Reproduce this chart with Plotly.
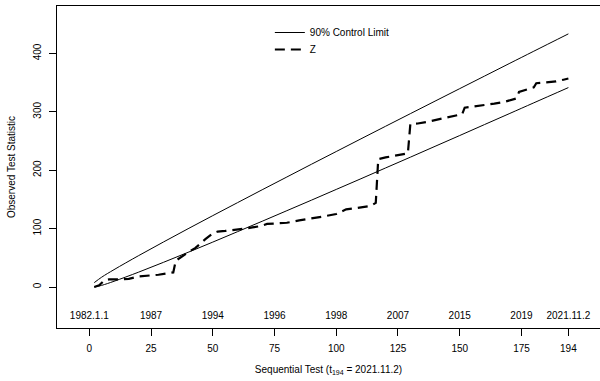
import plotly.graph_objects as go

# Sequential test index and the two 90% control limits
limit_t = [2, 5, 10, 20, 30, 40, 50, 60, 70, 80, 90, 100, 110, 120, 130, 140,
           150, 160, 170, 180, 194]
upper_limit = [7.5, 16.8, 29.7, 53.8, 77.0, 99.8, 122.2, 144.4, 166.5, 188.4,
               210.3, 232.0, 253.7, 275.3, 296.8, 318.3, 339.7, 361.1, 382.5,
               403.8, 433.5]
lower_limit = [0.0, 2.8, 9.8, 25.5, 42.2, 59.4, 76.9, 94.7, 112.6, 130.7,
               148.8, 167.1, 185.4, 203.9, 222.3, 240.9, 259.4, 278.1, 296.7,
               315.4, 341.5]

# Observed test statistic Z
z_t = [2, 4, 6, 8, 12, 16, 20, 24, 28, 31, 34, 35, 37, 39, 41, 43, 45, 47,
       50, 52, 55, 60, 63, 66, 69, 72, 76, 80, 85, 90, 95, 100, 102, 104, 108,
       112, 114, 116, 117, 120, 124, 128, 129, 130, 133, 137, 141, 145, 149,
       151, 152, 156, 160, 164, 168, 172, 173, 174, 176, 178, 180, 181, 185,
       189, 192, 194]
z_val = [0, 3, 11, 13, 13, 14, 18, 19, 21, 23, 25, 45, 51, 56, 62, 67, 75,
         82, 92, 95, 96, 98, 100, 102, 104, 108, 109, 110, 114, 117, 121, 125,
         129, 133, 135, 137, 139, 144, 219, 222, 225, 228, 229, 279, 280, 283,
         287, 291, 294, 296, 307, 309, 312, 314, 317, 321, 323, 334, 337, 339,
         342, 349, 351, 352, 355, 357]

# Calendar dates marked above the sequential-test axis
date_pos = [0, 25, 50, 75, 100, 125, 150, 175, 194]
date_labels = ["1982.1.1", "1987", "1994", "1996", "1998", "2007", "2015",
               "2019", "2021.11.2"]
date_level = -51

x_ticks = [0, 25, 50, 75, 100, 125, 150, 175, 194]
y_ticks = [0, 100, 200, 300, 400]

FONT = "Liberation Sans, Arial, sans-serif"

fig = go.Figure()
fig.add_trace(go.Scatter(
    x=limit_t, y=upper_limit, mode="lines", name="90% Control Limit",
    legendgroup="limit", legend="legend",
    line=dict(color="black", width=1, shape="spline"),
))
fig.add_trace(go.Scatter(
    x=limit_t, y=lower_limit, mode="lines", name="90% Control Limit",
    legendgroup="limit", showlegend=False,
    line=dict(color="black", width=1, shape="spline"),
))
fig.add_trace(go.Scatter(
    x=z_t, y=z_val, mode="lines", name="Z", legend="legend2",
    line=dict(color="black", width=2.2, dash="10px,6px"),
))
fig.add_trace(go.Scatter(
    x=date_pos, y=[date_level] * len(date_pos), mode="text",
    text=date_labels, textposition="middle center",
    textfont=dict(family=FONT, size=10, color="black"),
    showlegend=False, hoverinfo="skip",
))

legend_style = dict(
    xanchor="left", yanchor="top",
    bgcolor="rgba(0,0,0,0)", borderwidth=0,
    font=dict(family=FONT, size=10, color="black"),
    itemwidth=30,
)

fig.update_layout(
    width=600, height=381,
    margin=dict(l=57, r=0, t=6, b=53),
    paper_bgcolor="white", plot_bgcolor="white",
    font=dict(family=FONT, size=10, color="black"),
    showlegend=True,
    legend=dict(x=0.392, y=0.9627, **legend_style),
    legend2=dict(x=0.392, y=0.910, **legend_style),
    xaxis=dict(
        range=[-13.08, 206.8], showgrid=False, zeroline=False,
        showline=True, linecolor="black", linewidth=1, mirror=True,
        ticks="outside", ticklen=7, tickcolor="black", tickwidth=1,
        tickvals=x_ticks, ticktext=[str(v) for v in x_ticks],
        ticklabelstandoff=4,
        title=dict(text="Sequential Test (t<sub>194</sub> = 2021.11.2)",
                   font=dict(family=FONT, size=10), standoff=12),
    ),
    yaxis=dict(
        range=[-70.2, 481.2], showgrid=False, zeroline=False,
        showline=True, linecolor="black", linewidth=1,
        ticks="outside", ticklen=7, tickcolor="black", tickwidth=1,
        tickvals=y_ticks, ticktext=[str(v) for v in y_ticks],
        tickangle=-90, ticklabelstandoff=4,
        title=dict(text="Observed Test Statistic",
                   font=dict(family=FONT, size=10), standoff=14),
    ),
)

fig.write_html("out.html")
